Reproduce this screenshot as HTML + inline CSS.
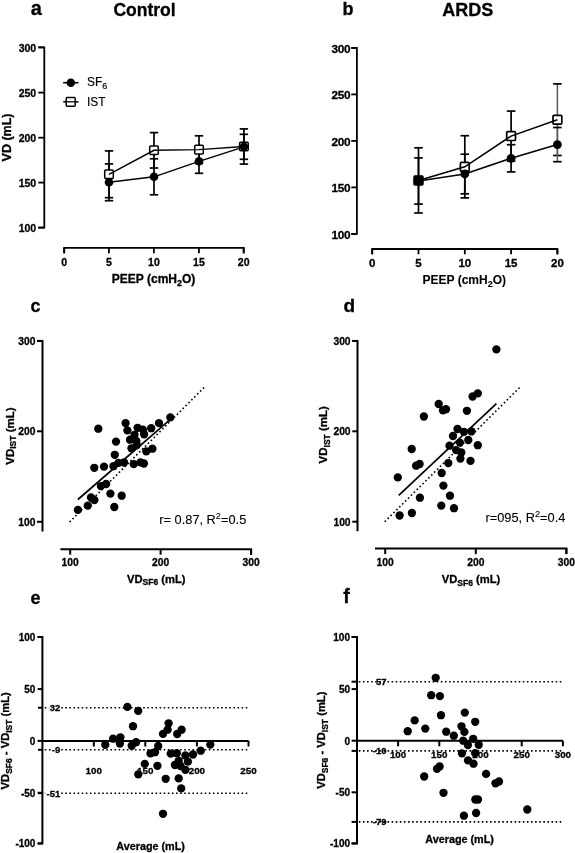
<!DOCTYPE html>
<html><head><meta charset="utf-8"><title>Figure</title>
<style>
html,body{margin:0;padding:0;background:#fff;width:575px;height:853px;overflow:hidden}
svg{display:block;will-change:transform;font-family:"Liberation Sans",sans-serif}
text{stroke:#000;stroke-width:0.3px}
</style></head><body>
<svg width="575" height="853" viewBox="0 0 575 853">
<rect width="575" height="853" fill="#fff"/>
<text x="30.7" y="15" font-size="20" text-anchor="start" font-weight="bold" >a</text>
<text x="144.5" y="15.8" font-size="17.5" text-anchor="middle" font-weight="bold" >Control</text>
<path d="M38.3,47.4 H44.3 V227.6 H38.3" fill="none" stroke="#000" stroke-width="1.8" />
<line x1="38.3" y1="47.4" x2="44.3" y2="47.4" stroke="#000" stroke-width="1.8" />
<text x="36.2" y="51.5" font-size="10.5" text-anchor="end" font-weight="bold" >300</text>
<line x1="38.3" y1="92.6" x2="44.3" y2="92.6" stroke="#000" stroke-width="1.8" />
<text x="36.2" y="96.69999999999999" font-size="10.5" text-anchor="end" font-weight="bold" >250</text>
<line x1="38.3" y1="137.7" x2="44.3" y2="137.7" stroke="#000" stroke-width="1.8" />
<text x="36.2" y="141.79999999999998" font-size="10.5" text-anchor="end" font-weight="bold" >200</text>
<line x1="38.3" y1="182.6" x2="44.3" y2="182.6" stroke="#000" stroke-width="1.8" />
<text x="36.2" y="186.7" font-size="10.5" text-anchor="end" font-weight="bold" >150</text>
<line x1="38.3" y1="227.6" x2="44.3" y2="227.6" stroke="#000" stroke-width="1.8" />
<text x="36.2" y="231.7" font-size="10.5" text-anchor="end" font-weight="bold" >100</text>
<path d="M64.2,253.3 V247.8 H243.7 V253.3" fill="none" stroke="#000" stroke-width="1.8" />
<line x1="64.2" y1="247.8" x2="64.2" y2="253.3" stroke="#000" stroke-width="1.8" />
<text x="64.2" y="266" font-size="10.5" text-anchor="middle" font-weight="bold" >0</text>
<line x1="108.9" y1="247.8" x2="108.9" y2="253.3" stroke="#000" stroke-width="1.8" />
<text x="108.9" y="266" font-size="10.5" text-anchor="middle" font-weight="bold" >5</text>
<line x1="153.9" y1="247.8" x2="153.9" y2="253.3" stroke="#000" stroke-width="1.8" />
<text x="153.9" y="266" font-size="10.5" text-anchor="middle" font-weight="bold" >10</text>
<line x1="198.9" y1="247.8" x2="198.9" y2="253.3" stroke="#000" stroke-width="1.8" />
<text x="198.9" y="266" font-size="10.5" text-anchor="middle" font-weight="bold" >15</text>
<line x1="243.7" y1="247.8" x2="243.7" y2="253.3" stroke="#000" stroke-width="1.8" />
<text x="243.7" y="266" font-size="10.5" text-anchor="middle" font-weight="bold" >20</text>
<text x="153.6" y="282.7" font-size="12" text-anchor="middle" font-weight="bold">PEEP (cmH<tspan font-size="9" dy="2.8">2</tspan><tspan dy="-2.8">O)</tspan></text>
<text transform="translate(11.3,137.5) rotate(-90)" x="0" y="0" font-size="12.5" text-anchor="middle" font-weight="bold">VD (mL)</text>
<line x1="63.2" y1="82.7" x2="78.5" y2="82.7" stroke="#000" stroke-width="1.6" />
<circle cx="70.8" cy="82.7" r="4.3" fill="#000"/>
<line x1="63.2" y1="101.8" x2="78.5" y2="101.8" stroke="#000" stroke-width="1.5" />
<rect x="66.2" y="97.4" width="9" height="8.8" rx="1" fill="#fff" stroke="#000" stroke-width="1.5"/>
<line x1="66.2" y1="101.8" x2="75.2" y2="101.8" stroke="#000" stroke-width="1.3" />
<text x="87" y="85.6" font-size="12" style="stroke-width:0.15px">SF<tspan font-size="9" dy="3.2">6</tspan></text>
<text x="87" y="105.9" font-size="12" style="stroke-width:0.15px">IST</text>
<line x1="109" y1="150.9" x2="109" y2="197.70000000000002" stroke="#000" stroke-width="1.7" />
<line x1="104.8" y1="150.9" x2="113.2" y2="150.9" stroke="#000" stroke-width="1.7" />
<line x1="104.8" y1="197.70000000000002" x2="113.2" y2="197.70000000000002" stroke="#000" stroke-width="1.7" />
<line x1="154" y1="132.60000000000002" x2="154" y2="168.0" stroke="#000" stroke-width="1.7" />
<line x1="149.8" y1="132.60000000000002" x2="158.2" y2="132.60000000000002" stroke="#000" stroke-width="1.7" />
<line x1="149.8" y1="168.0" x2="158.2" y2="168.0" stroke="#000" stroke-width="1.7" />
<line x1="199" y1="135.79999999999998" x2="199" y2="163.4" stroke="#000" stroke-width="1.7" />
<line x1="194.8" y1="135.79999999999998" x2="203.2" y2="135.79999999999998" stroke="#000" stroke-width="1.7" />
<line x1="194.8" y1="163.4" x2="203.2" y2="163.4" stroke="#000" stroke-width="1.7" />
<line x1="243.9" y1="128.9" x2="243.9" y2="164.1" stroke="#000" stroke-width="1.7" />
<line x1="239.70000000000002" y1="128.9" x2="248.1" y2="128.9" stroke="#000" stroke-width="1.7" />
<line x1="239.70000000000002" y1="164.1" x2="248.1" y2="164.1" stroke="#000" stroke-width="1.7" />
<line x1="109" y1="163.9" x2="109" y2="200.70000000000002" stroke="#000" stroke-width="1.7" />
<line x1="104.8" y1="163.9" x2="113.2" y2="163.9" stroke="#000" stroke-width="1.7" />
<line x1="104.8" y1="200.70000000000002" x2="113.2" y2="200.70000000000002" stroke="#000" stroke-width="1.7" />
<line x1="154" y1="158.8" x2="154" y2="194.8" stroke="#000" stroke-width="1.7" />
<line x1="149.8" y1="158.8" x2="158.2" y2="158.8" stroke="#000" stroke-width="1.7" />
<line x1="149.8" y1="194.8" x2="158.2" y2="194.8" stroke="#000" stroke-width="1.7" />
<line x1="199" y1="149.3" x2="199" y2="173.3" stroke="#000" stroke-width="1.7" />
<line x1="194.8" y1="149.3" x2="203.2" y2="149.3" stroke="#000" stroke-width="1.7" />
<line x1="194.8" y1="173.3" x2="203.2" y2="173.3" stroke="#000" stroke-width="1.7" />
<line x1="243.9" y1="134.3" x2="243.9" y2="159.3" stroke="#000" stroke-width="1.7" />
<line x1="239.70000000000002" y1="134.3" x2="248.1" y2="134.3" stroke="#000" stroke-width="1.7" />
<line x1="239.70000000000002" y1="159.3" x2="248.1" y2="159.3" stroke="#000" stroke-width="1.7" />
<rect x="104.7" y="170.0" width="8.6" height="8.6" rx="1" fill="#fff" stroke="#000" stroke-width="1.5"/>
<rect x="149.7" y="146.0" width="8.6" height="8.6" rx="1" fill="#fff" stroke="#000" stroke-width="1.5"/>
<rect x="194.7" y="145.29999999999998" width="8.6" height="8.6" rx="1" fill="#fff" stroke="#000" stroke-width="1.5"/>
<rect x="239.6" y="142.2" width="8.6" height="8.6" rx="1" fill="#fff" stroke="#000" stroke-width="1.5"/>
<path d="M109,174.3 L154,150.3 L199,149.6 L243.9,146.5" fill="none" stroke="#000" stroke-width="1.4" />
<path d="M109,182.3 L154,176.8 L199,161.3 L243.9,146.8" fill="none" stroke="#000" stroke-width="1.4" />
<circle cx="109" cy="182.3" r="4.3" fill="#000"/>
<circle cx="154" cy="176.8" r="4.3" fill="#000"/>
<circle cx="199" cy="161.3" r="4.3" fill="#000"/>
<circle cx="243.9" cy="146.8" r="4.3" fill="#000"/>
<text x="342.5" y="15.2" font-size="18" text-anchor="start" font-weight="bold" >b</text>
<text x="467.8" y="16.1" font-size="18" text-anchor="middle" font-weight="bold" >ARDS</text>
<path d="M351.3,47.9 H356.9 V233.9 H351.3" fill="none" stroke="#000" stroke-width="1.8" />
<line x1="351.3" y1="47.9" x2="356.9" y2="47.9" stroke="#000" stroke-width="1.8" />
<text x="350.2" y="52.8" font-size="11.8" text-anchor="end" font-weight="bold" letter-spacing="-0.35">300</text>
<line x1="351.3" y1="94.4" x2="356.9" y2="94.4" stroke="#000" stroke-width="1.8" />
<text x="350.2" y="99.30000000000001" font-size="11.8" text-anchor="end" font-weight="bold" letter-spacing="-0.35">250</text>
<line x1="351.3" y1="140.9" x2="356.9" y2="140.9" stroke="#000" stroke-width="1.8" />
<text x="350.2" y="145.8" font-size="11.8" text-anchor="end" font-weight="bold" letter-spacing="-0.35">200</text>
<line x1="351.3" y1="187.4" x2="356.9" y2="187.4" stroke="#000" stroke-width="1.8" />
<text x="350.2" y="192.3" font-size="11.8" text-anchor="end" font-weight="bold" letter-spacing="-0.35">150</text>
<line x1="351.3" y1="233.9" x2="356.9" y2="233.9" stroke="#000" stroke-width="1.8" />
<text x="350.2" y="238.8" font-size="11.8" text-anchor="end" font-weight="bold" letter-spacing="-0.35">100</text>
<path d="M372.2,254.3 V249 H557.4 V254.3" fill="none" stroke="#000" stroke-width="1.8" />
<line x1="372.2" y1="249" x2="372.2" y2="254.3" stroke="#000" stroke-width="1.8" />
<text x="372.2" y="266.9" font-size="11.5" text-anchor="middle" font-weight="bold" >0</text>
<line x1="418.5" y1="249" x2="418.5" y2="254.3" stroke="#000" stroke-width="1.8" />
<text x="418.5" y="266.9" font-size="11.5" text-anchor="middle" font-weight="bold" >5</text>
<line x1="464.8" y1="249" x2="464.8" y2="254.3" stroke="#000" stroke-width="1.8" />
<text x="464.8" y="266.9" font-size="11.5" text-anchor="middle" font-weight="bold" >10</text>
<line x1="511.1" y1="249" x2="511.1" y2="254.3" stroke="#000" stroke-width="1.8" />
<text x="511.1" y="266.9" font-size="11.5" text-anchor="middle" font-weight="bold" >15</text>
<line x1="557.4" y1="249" x2="557.4" y2="254.3" stroke="#000" stroke-width="1.8" />
<text x="557.4" y="266.9" font-size="11.5" text-anchor="middle" font-weight="bold" >20</text>
<text x="464.3" y="284" font-size="12" text-anchor="middle" font-weight="bold" style="stroke-width:0.1px">PEEP (cmH<tspan font-size="9" dy="2.8">2</tspan><tspan dy="-2.8">O)</tspan></text>
<line x1="418.5" y1="147.8" x2="418.5" y2="213.0" stroke="#000" stroke-width="1.7" />
<line x1="414.2" y1="147.8" x2="422.8" y2="147.8" stroke="#000" stroke-width="1.7" />
<line x1="414.2" y1="213.0" x2="422.8" y2="213.0" stroke="#000" stroke-width="1.7" />
<line x1="464.8" y1="135.70000000000002" x2="464.8" y2="197.9" stroke="#000" stroke-width="1.7" />
<line x1="460.5" y1="135.70000000000002" x2="469.1" y2="135.70000000000002" stroke="#000" stroke-width="1.7" />
<line x1="460.5" y1="197.9" x2="469.1" y2="197.9" stroke="#000" stroke-width="1.7" />
<line x1="511.1" y1="111.1" x2="511.1" y2="161.1" stroke="#000" stroke-width="1.7" />
<line x1="506.8" y1="111.1" x2="515.4" y2="111.1" stroke="#000" stroke-width="1.7" />
<line x1="506.8" y1="161.1" x2="515.4" y2="161.1" stroke="#000" stroke-width="1.7" />
<line x1="557.4" y1="83.9" x2="557.4" y2="155.5"  stroke-width="1.5" stroke="#5a5a5a"/>
<line x1="553.1" y1="83.9" x2="561.6999999999999" y2="83.9" stroke="#000" stroke-width="1.7" />
<line x1="553.1" y1="155.5" x2="561.6999999999999" y2="155.5" stroke="#000" stroke-width="1.7" />
<line x1="418.5" y1="157.9" x2="418.5" y2="204.1" stroke="#000" stroke-width="1.7" />
<line x1="414.2" y1="157.9" x2="422.8" y2="157.9" stroke="#000" stroke-width="1.7" />
<line x1="414.2" y1="204.1" x2="422.8" y2="204.1" stroke="#000" stroke-width="1.7" />
<line x1="464.8" y1="154.2" x2="464.8" y2="193.8" stroke="#000" stroke-width="1.7" />
<line x1="460.5" y1="154.2" x2="469.1" y2="154.2" stroke="#000" stroke-width="1.7" />
<line x1="460.5" y1="193.8" x2="469.1" y2="193.8" stroke="#000" stroke-width="1.7" />
<line x1="511.1" y1="144.70000000000002" x2="511.1" y2="171.9" stroke="#000" stroke-width="1.7" />
<line x1="506.8" y1="144.70000000000002" x2="515.4" y2="144.70000000000002" stroke="#000" stroke-width="1.7" />
<line x1="506.8" y1="171.9" x2="515.4" y2="171.9" stroke="#000" stroke-width="1.7" />
<line x1="557.4" y1="127.5" x2="557.4" y2="161.7"  stroke-width="1.5" stroke="#5a5a5a"/>
<line x1="553.1" y1="127.5" x2="561.6999999999999" y2="127.5" stroke="#000" stroke-width="1.7" />
<line x1="553.1" y1="161.7" x2="561.6999999999999" y2="161.7" stroke="#000" stroke-width="1.7" />
<rect x="414.1" y="176.0" width="8.8" height="8.8" rx="1" fill="#fff" stroke="#000" stroke-width="1.7"/>
<rect x="460.40000000000003" y="162.4" width="8.8" height="8.8" rx="1" fill="#fff" stroke="#000" stroke-width="1.7"/>
<rect x="506.70000000000005" y="131.7" width="8.8" height="8.8" rx="1" fill="#fff" stroke="#000" stroke-width="1.7"/>
<rect x="553.0" y="115.3" width="8.8" height="8.8" rx="1" fill="#fff" stroke="#000" stroke-width="1.7"/>
<path d="M418.5,180.4 L464.8,166.8 L511.1,136.1 L557.4,119.7" fill="none" stroke="#000" stroke-width="1.6" />
<path d="M418.5,181.0 L464.8,174.0 L511.1,158.3 L557.4,144.6" fill="none" stroke="#000" stroke-width="1.6" />
<circle cx="418.5" cy="181.0" r="4.4" fill="#000"/>
<circle cx="464.8" cy="174.0" r="4.4" fill="#000"/>
<circle cx="511.1" cy="158.3" r="4.4" fill="#000"/>
<circle cx="557.4" cy="144.6" r="4.4" fill="#000"/>
<rect x="413.9" y="175.8" width="9.2" height="9.2" fill="#000"/>
<text x="30.5" y="312.1" font-size="18" text-anchor="start" font-weight="bold" >c</text>
<path d="M37,340.9 H42.5 V531.4" fill="none" stroke="#000" stroke-width="2" />
<line x1="37" y1="340.9" x2="42.5" y2="340.9" stroke="#000" stroke-width="2" />
<text x="35.4" y="344.9" font-size="10.3" text-anchor="end" font-weight="bold" >300</text>
<line x1="37" y1="431.3" x2="42.5" y2="431.3" stroke="#000" stroke-width="2" />
<text x="35.4" y="435.3" font-size="10.3" text-anchor="end" font-weight="bold" >200</text>
<line x1="37" y1="521.8" x2="42.5" y2="521.8" stroke="#000" stroke-width="2" />
<text x="35.4" y="525.8" font-size="10.3" text-anchor="end" font-weight="bold" >100</text>
<path d="M60.4,549.2 H251.1 V554.7" fill="none" stroke="#000" stroke-width="2" />
<line x1="70.2" y1="549.2" x2="70.2" y2="554.7" stroke="#000" stroke-width="2" />
<text x="70.2" y="566.3" font-size="10.3" text-anchor="middle" font-weight="bold" >100</text>
<line x1="160.6" y1="549.2" x2="160.6" y2="554.7" stroke="#000" stroke-width="2" />
<text x="160.6" y="566.3" font-size="10.3" text-anchor="middle" font-weight="bold" >200</text>
<line x1="251.1" y1="549.2" x2="251.1" y2="554.7" stroke="#000" stroke-width="2" />
<text x="251.1" y="566.3" font-size="10.3" text-anchor="middle" font-weight="bold" >300</text>
<text x="156.3" y="582.8" font-size="11.2" text-anchor="middle" font-weight="bold">VD<tspan font-size="8.5" dy="2.2">SF6</tspan><tspan dy="-2.2"> (mL)</tspan></text>
<text transform="translate(14,436.1) rotate(-90)" font-size="11.5" text-anchor="middle" font-weight="bold">VD<tspan font-size="8.5" dy="2.2">IST</tspan><tspan dy="-2.2"> (mL)</tspan></text>
<line x1="69.6" y1="522" x2="205.8" y2="385.8" stroke="#000" stroke-width="1.6" stroke-dasharray="1.6 2.5"/>
<line x1="77.9" y1="499.5" x2="169.8" y2="419.8" stroke="#000" stroke-width="1.7" />
<circle cx="77.9" cy="509.9" r="4.15" fill="#000"/>
<circle cx="87.8" cy="505.6" r="4.15" fill="#000"/>
<circle cx="91" cy="497.4" r="4.15" fill="#000"/>
<circle cx="94.4" cy="500" r="4.15" fill="#000"/>
<circle cx="114.3" cy="507" r="4.15" fill="#000"/>
<circle cx="110.4" cy="493.6" r="4.15" fill="#000"/>
<circle cx="121.7" cy="495.7" r="4.15" fill="#000"/>
<circle cx="100.9" cy="486.1" r="4.15" fill="#000"/>
<circle cx="106.1" cy="484" r="4.15" fill="#000"/>
<circle cx="94.3" cy="467.8" r="4.15" fill="#000"/>
<circle cx="104" cy="466.6" r="4.15" fill="#000"/>
<circle cx="113.5" cy="466.2" r="4.15" fill="#000"/>
<circle cx="118.5" cy="462.8" r="4.15" fill="#000"/>
<circle cx="124.1" cy="462.5" r="4.15" fill="#000"/>
<circle cx="133.7" cy="464.1" r="4.15" fill="#000"/>
<circle cx="140.4" cy="462.4" r="4.15" fill="#000"/>
<circle cx="143.9" cy="463.5" r="4.15" fill="#000"/>
<circle cx="114.8" cy="454.8" r="4.15" fill="#000"/>
<circle cx="116" cy="441.6" r="4.15" fill="#000"/>
<circle cx="98.3" cy="428.7" r="4.15" fill="#000"/>
<circle cx="125.6" cy="423.1" r="4.15" fill="#000"/>
<circle cx="127.4" cy="430.4" r="4.15" fill="#000"/>
<circle cx="137.6" cy="427.8" r="4.15" fill="#000"/>
<circle cx="142.9" cy="429.6" r="4.15" fill="#000"/>
<circle cx="144.1" cy="434.3" r="4.15" fill="#000"/>
<circle cx="151.2" cy="428.2" r="4.15" fill="#000"/>
<circle cx="159" cy="423.1" r="4.15" fill="#000"/>
<circle cx="170.3" cy="417.4" r="4.15" fill="#000"/>
<circle cx="130" cy="439.7" r="4.15" fill="#000"/>
<circle cx="134.5" cy="434.8" r="4.15" fill="#000"/>
<circle cx="136.3" cy="440.9" r="4.15" fill="#000"/>
<circle cx="131.5" cy="448.3" r="4.15" fill="#000"/>
<circle cx="136.8" cy="445" r="4.15" fill="#000"/>
<circle cx="146.3" cy="451.3" r="4.15" fill="#000"/>
<circle cx="152.4" cy="448.7" r="4.15" fill="#000"/>
<text x="159.3" y="523.6" font-size="12.8" style="stroke-width:0.1px">r= 0.87, R<tspan font-size="9.2" dy="-5">2</tspan><tspan dy="5">=0.5</tspan></text>
<text x="343.6" y="312.3" font-size="19" text-anchor="start" font-weight="bold" >d</text>
<path d="M352.3,340.9 H357.5 V531.3" fill="none" stroke="#000" stroke-width="2" />
<line x1="352.3" y1="340.9" x2="357.5" y2="340.9" stroke="#000" stroke-width="2" />
<text x="350.6" y="344.9" font-size="10.3" text-anchor="end" font-weight="bold" >300</text>
<line x1="352.3" y1="431.3" x2="357.5" y2="431.3" stroke="#000" stroke-width="2" />
<text x="350.6" y="435.3" font-size="10.3" text-anchor="end" font-weight="bold" >200</text>
<line x1="352.3" y1="521.7" x2="357.5" y2="521.7" stroke="#000" stroke-width="2" />
<text x="350.6" y="525.7" font-size="10.3" text-anchor="end" font-weight="bold" >100</text>
<path d="M375,548.6 H566.4 V554.1" fill="none" stroke="#000" stroke-width="2" />
<line x1="385.2" y1="548.6" x2="385.2" y2="554.1" stroke="#000" stroke-width="2" />
<text x="385.2" y="566.3" font-size="10.3" text-anchor="middle" font-weight="bold" >100</text>
<line x1="475.8" y1="548.6" x2="475.8" y2="554.1" stroke="#000" stroke-width="2" />
<text x="475.8" y="566.3" font-size="10.3" text-anchor="middle" font-weight="bold" >200</text>
<line x1="566.4" y1="548.6" x2="566.4" y2="554.1" stroke="#000" stroke-width="2" />
<text x="566.4" y="566.3" font-size="10.3" text-anchor="middle" font-weight="bold" >300</text>
<text x="471" y="583.3" font-size="11.2" text-anchor="middle" font-weight="bold">VD<tspan font-size="8.5" dy="2.2">SF6</tspan><tspan dy="-2.2"> (mL)</tspan></text>
<text transform="translate(327.3,434.8) rotate(-90)" font-size="11.5" text-anchor="middle" font-weight="bold">VD<tspan font-size="8.5" dy="2.2">IST</tspan><tspan dy="-2.2"> (mL)</tspan></text>
<line x1="384.7" y1="521.7" x2="520.6" y2="386.6" stroke="#000" stroke-width="1.6" stroke-dasharray="1.6 2.5"/>
<line x1="398.7" y1="495.3" x2="496.4" y2="403.6" stroke="#000" stroke-width="1.7" />
<circle cx="397.8" cy="477.4" r="4.15" fill="#000"/>
<circle cx="411.7" cy="449" r="4.15" fill="#000"/>
<circle cx="416.1" cy="465.7" r="4.15" fill="#000"/>
<circle cx="419.6" cy="464" r="4.15" fill="#000"/>
<circle cx="419.9" cy="497.7" r="4.15" fill="#000"/>
<circle cx="399.6" cy="515.5" r="4.15" fill="#000"/>
<circle cx="411.9" cy="513" r="4.15" fill="#000"/>
<circle cx="423.9" cy="416.5" r="4.15" fill="#000"/>
<circle cx="438.7" cy="404" r="4.15" fill="#000"/>
<circle cx="443" cy="410.4" r="4.15" fill="#000"/>
<circle cx="446" cy="409.2" r="4.15" fill="#000"/>
<circle cx="466.9" cy="410.8" r="4.15" fill="#000"/>
<circle cx="472.6" cy="396.5" r="4.15" fill="#000"/>
<circle cx="477.8" cy="393.4" r="4.15" fill="#000"/>
<circle cx="457.5" cy="429" r="4.15" fill="#000"/>
<circle cx="463.9" cy="431.8" r="4.15" fill="#000"/>
<circle cx="471.4" cy="431.3" r="4.15" fill="#000"/>
<circle cx="453" cy="436" r="4.15" fill="#000"/>
<circle cx="468.3" cy="440" r="4.15" fill="#000"/>
<circle cx="477.8" cy="445.2" r="4.15" fill="#000"/>
<circle cx="459.9" cy="442.6" r="4.15" fill="#000"/>
<circle cx="449.5" cy="445.7" r="4.15" fill="#000"/>
<circle cx="456.1" cy="450.1" r="4.15" fill="#000"/>
<circle cx="461.3" cy="452.5" r="4.15" fill="#000"/>
<circle cx="460.4" cy="458.6" r="4.15" fill="#000"/>
<circle cx="470.5" cy="460.9" r="4.15" fill="#000"/>
<circle cx="448.3" cy="463.1" r="4.15" fill="#000"/>
<circle cx="441.7" cy="473" r="4.15" fill="#000"/>
<circle cx="443.4" cy="485.6" r="4.15" fill="#000"/>
<circle cx="450" cy="495.7" r="4.15" fill="#000"/>
<circle cx="441.3" cy="505.6" r="4.15" fill="#000"/>
<circle cx="454" cy="508.2" r="4.15" fill="#000"/>
<circle cx="496.4" cy="349.4" r="4.15" fill="#000"/>
<text x="485.5" y="522.4" font-size="12.8" style="stroke-width:0.1px">r=095, R<tspan font-size="9.2" dy="-5">2</tspan><tspan dy="5">=0.4</tspan></text>
<text x="30.5" y="603.9" font-size="18" text-anchor="start" font-weight="bold" >e</text>
<path d="M37.6,637 H42.4 V843.4 H37.6" fill="none" stroke="#000" stroke-width="2" />
<line x1="37.6" y1="637" x2="42.4" y2="637" stroke="#000" stroke-width="2" />
<text x="35.4" y="640.8" font-size="10" text-anchor="end" font-weight="bold" >100</text>
<line x1="37.6" y1="689.1" x2="42.4" y2="689.1" stroke="#000" stroke-width="2" />
<text x="35.4" y="692.9" font-size="10" text-anchor="end" font-weight="bold" >50</text>
<line x1="37.6" y1="740.9" x2="42.4" y2="740.9" stroke="#000" stroke-width="2" />
<text x="35.4" y="744.6999999999999" font-size="10" text-anchor="end" font-weight="bold" >0</text>
<line x1="37.6" y1="792.8" x2="42.4" y2="792.8" stroke="#000" stroke-width="2" />
<text x="35.4" y="796.5999999999999" font-size="10" text-anchor="end" font-weight="bold" >-50</text>
<line x1="37.6" y1="843.4" x2="42.4" y2="843.4" stroke="#000" stroke-width="2" />
<text x="35.4" y="847.1999999999999" font-size="10" text-anchor="end" font-weight="bold" >-100</text>
<line x1="42.4" y1="740.9" x2="248.5" y2="740.9" stroke="#000" stroke-width="2" />
<line x1="93.8" y1="740.9" x2="93.8" y2="746.5" stroke="#000" stroke-width="2" />
<text x="93.8" y="773.6" font-size="9.8" text-anchor="middle" font-weight="bold" >100</text>
<line x1="145.3" y1="740.9" x2="145.3" y2="746.5" stroke="#000" stroke-width="2" />
<text x="145.3" y="773.6" font-size="9.8" text-anchor="middle" font-weight="bold" >150</text>
<line x1="196.9" y1="740.9" x2="196.9" y2="746.5" stroke="#000" stroke-width="2" />
<text x="196.9" y="773.6" font-size="9.8" text-anchor="middle" font-weight="bold" >200</text>
<line x1="248.5" y1="740.9" x2="248.5" y2="746.5" stroke="#000" stroke-width="2" />
<text x="248.5" y="773.6" font-size="9.8" text-anchor="middle" font-weight="bold" >250</text>
<line x1="38" y1="707.7" x2="42.4" y2="707.7" stroke="#000" stroke-width="2" />
<line x1="44.8" y1="707.7" x2="247.6" y2="707.7" stroke="#000" stroke-width="1.6" stroke-dasharray="1.6 2.5"/>
<rect x="49.2" y="703.7" width="10.799999999999997" height="8" fill="#fff"/>
<text x="60.3" y="711.1" font-size="9.5" text-anchor="end" font-weight="bold" >32</text>
<line x1="38" y1="749.8" x2="42.4" y2="749.8" stroke="#000" stroke-width="2" />
<line x1="44.8" y1="749.8" x2="247.6" y2="749.8" stroke="#000" stroke-width="1.6" stroke-dasharray="1.6 2.5"/>
<rect x="51" y="745.8" width="9" height="8" fill="#fff"/>
<text x="60.3" y="753.1999999999999" font-size="9.5" text-anchor="end" font-weight="bold" >-9</text>
<line x1="38" y1="793.2" x2="42.4" y2="793.2" stroke="#000" stroke-width="2" />
<line x1="44.8" y1="793.2" x2="247.6" y2="793.2" stroke="#000" stroke-width="1.6" stroke-dasharray="1.6 2.5"/>
<rect x="45.2" y="789.2" width="14.799999999999997" height="8" fill="#fff"/>
<text x="60.3" y="796.6" font-size="9.5" text-anchor="end" font-weight="bold" >-51</text>
<text x="150.6" y="849.6" font-size="10.8" text-anchor="middle" font-weight="bold">Average (mL)</text>
<text transform="translate(9.3,740.8) rotate(-90)" font-size="11.2" text-anchor="middle" font-weight="bold">VD<tspan font-size="8.5" dy="2.2">SF6</tspan><tspan dy="-2.2"> - VD</tspan><tspan font-size="8.5" dy="2.2">IST</tspan><tspan dy="-2.2"> (mL)</tspan></text>
<circle cx="105.3" cy="744.8" r="4.15" fill="#000"/>
<circle cx="113.1" cy="738.7" r="4.15" fill="#000"/>
<circle cx="120.4" cy="737.3" r="4.15" fill="#000"/>
<circle cx="119.9" cy="743.6" r="4.15" fill="#000"/>
<circle cx="131.7" cy="745.7" r="4.15" fill="#000"/>
<circle cx="136.1" cy="742.2" r="4.15" fill="#000"/>
<circle cx="127.4" cy="706.9" r="4.15" fill="#000"/>
<circle cx="138.2" cy="710.9" r="4.15" fill="#000"/>
<circle cx="133" cy="726.2" r="4.15" fill="#000"/>
<circle cx="138.3" cy="774.3" r="4.15" fill="#000"/>
<circle cx="144.8" cy="763.9" r="4.15" fill="#000"/>
<circle cx="150.5" cy="753.4" r="4.15" fill="#000"/>
<circle cx="155" cy="752.2" r="4.15" fill="#000"/>
<circle cx="158.2" cy="746" r="4.15" fill="#000"/>
<circle cx="157.4" cy="765.8" r="4.15" fill="#000"/>
<circle cx="163" cy="733.9" r="4.15" fill="#000"/>
<circle cx="167.6" cy="729.7" r="4.15" fill="#000"/>
<circle cx="168.6" cy="723.3" r="4.15" fill="#000"/>
<circle cx="177.2" cy="734" r="4.15" fill="#000"/>
<circle cx="181.6" cy="729.7" r="4.15" fill="#000"/>
<circle cx="170.7" cy="753.6" r="4.15" fill="#000"/>
<circle cx="176.8" cy="753.2" r="4.15" fill="#000"/>
<circle cx="185.4" cy="755.5" r="4.15" fill="#000"/>
<circle cx="193" cy="754.5" r="4.15" fill="#000"/>
<circle cx="200.7" cy="750.7" r="4.15" fill="#000"/>
<circle cx="210.3" cy="744.6" r="4.15" fill="#000"/>
<circle cx="178.7" cy="760.8" r="4.15" fill="#000"/>
<circle cx="187.9" cy="761.6" r="4.15" fill="#000"/>
<circle cx="174.9" cy="765" r="4.15" fill="#000"/>
<circle cx="180.6" cy="766" r="4.15" fill="#000"/>
<circle cx="185.4" cy="769.8" r="4.15" fill="#000"/>
<circle cx="165.7" cy="778.8" r="4.15" fill="#000"/>
<circle cx="178.7" cy="778.4" r="4.15" fill="#000"/>
<circle cx="181.2" cy="788.4" r="4.15" fill="#000"/>
<circle cx="163" cy="813.8" r="4.15" fill="#000"/>
<text x="343.2" y="602.8" font-size="19.5" text-anchor="start" font-weight="bold" >f</text>
<path d="M351.6,637 H357 V843.4 H351.6" fill="none" stroke="#000" stroke-width="2" />
<line x1="351.6" y1="637" x2="357" y2="637" stroke="#000" stroke-width="2" />
<text x="350" y="640.8" font-size="10" text-anchor="end" font-weight="bold" >100</text>
<line x1="351.6" y1="689.1" x2="357" y2="689.1" stroke="#000" stroke-width="2" />
<text x="350" y="692.9" font-size="10" text-anchor="end" font-weight="bold" >50</text>
<line x1="351.6" y1="740.7" x2="357" y2="740.7" stroke="#000" stroke-width="2" />
<text x="350" y="744.5" font-size="10" text-anchor="end" font-weight="bold" >0</text>
<line x1="351.6" y1="792.3" x2="357" y2="792.3" stroke="#000" stroke-width="2" />
<text x="350" y="796.0999999999999" font-size="10" text-anchor="end" font-weight="bold" >-50</text>
<line x1="351.6" y1="843.4" x2="357" y2="843.4" stroke="#000" stroke-width="2" />
<text x="350" y="847.1999999999999" font-size="10" text-anchor="end" font-weight="bold" >-100</text>
<line x1="357" y1="740.7" x2="562.9" y2="740.7" stroke="#000" stroke-width="2" />
<line x1="398.1" y1="740.7" x2="398.1" y2="746.3000000000001" stroke="#000" stroke-width="2" />
<text x="398.1" y="757.8" font-size="9.8" text-anchor="middle" font-weight="bold" >100</text>
<line x1="439.3" y1="740.7" x2="439.3" y2="746.3000000000001" stroke="#000" stroke-width="2" />
<text x="439.3" y="757.8" font-size="9.8" text-anchor="middle" font-weight="bold" >150</text>
<line x1="480.5" y1="740.7" x2="480.5" y2="746.3000000000001" stroke="#000" stroke-width="2" />
<text x="480.5" y="757.8" font-size="9.8" text-anchor="middle" font-weight="bold" >200</text>
<line x1="521.7" y1="740.7" x2="521.7" y2="746.3000000000001" stroke="#000" stroke-width="2" />
<text x="521.7" y="757.8" font-size="9.8" text-anchor="middle" font-weight="bold" >250</text>
<line x1="562.9" y1="740.7" x2="562.9" y2="746.3000000000001" stroke="#000" stroke-width="2" />
<text x="562.9" y="757.8" font-size="9.8" text-anchor="middle" font-weight="bold" >300</text>
<line x1="351.6" y1="681.7" x2="357" y2="681.7" stroke="#000" stroke-width="2" />
<line x1="358.8" y1="681.7" x2="561.5" y2="681.7" stroke="#000" stroke-width="1.6" stroke-dasharray="1.6 2.5"/>
<text x="386.6" y="685.1" font-size="9.5" text-anchor="end" font-weight="bold" >57</text>
<line x1="351.6" y1="750.9" x2="357" y2="750.9" stroke="#000" stroke-width="2" />
<line x1="358.8" y1="750.9" x2="561.5" y2="750.9" stroke="#000" stroke-width="1.6" stroke-dasharray="1.6 2.5"/>
<text x="386.6" y="754.3" font-size="9.5" text-anchor="end" font-weight="bold" >-10</text>
<line x1="351.6" y1="821.9" x2="357" y2="821.9" stroke="#000" stroke-width="2" />
<line x1="358.8" y1="821.9" x2="561.5" y2="821.9" stroke="#000" stroke-width="1.6" stroke-dasharray="1.6 2.5"/>
<text x="386.6" y="825.3" font-size="9.5" text-anchor="end" font-weight="bold" >-79</text>
<text x="459.6" y="842.5" font-size="10.8" text-anchor="middle" font-weight="bold">Average (mL)</text>
<text transform="translate(325.4,740.2) rotate(-90)" font-size="11.2" text-anchor="middle" font-weight="bold">VD<tspan font-size="8.5" dy="2.2">SF6</tspan><tspan dy="-2.2"> - VD</tspan><tspan font-size="8.5" dy="2.2">IST</tspan><tspan dy="-2.2"> (mL)</tspan></text>
<circle cx="435.7" cy="677.8" r="4.15" fill="#000"/>
<circle cx="431.2" cy="695.2" r="4.15" fill="#000"/>
<circle cx="439.9" cy="696.1" r="4.15" fill="#000"/>
<circle cx="441" cy="715.2" r="4.15" fill="#000"/>
<circle cx="414.7" cy="720.4" r="4.15" fill="#000"/>
<circle cx="407.7" cy="731.2" r="4.15" fill="#000"/>
<circle cx="425.3" cy="728.6" r="4.15" fill="#000"/>
<circle cx="446.2" cy="731.7" r="4.15" fill="#000"/>
<circle cx="453.8" cy="735.7" r="4.15" fill="#000"/>
<circle cx="464.8" cy="712.6" r="4.15" fill="#000"/>
<circle cx="475.2" cy="721.8" r="4.15" fill="#000"/>
<circle cx="461.5" cy="726.3" r="4.15" fill="#000"/>
<circle cx="464.4" cy="731.9" r="4.15" fill="#000"/>
<circle cx="463.2" cy="740.7" r="4.15" fill="#000"/>
<circle cx="473.2" cy="738.8" r="4.15" fill="#000"/>
<circle cx="467.9" cy="745" r="4.15" fill="#000"/>
<circle cx="478.7" cy="744.8" r="4.15" fill="#000"/>
<circle cx="462" cy="753.3" r="4.15" fill="#000"/>
<circle cx="475.1" cy="753.1" r="4.15" fill="#000"/>
<circle cx="468" cy="760.4" r="4.15" fill="#000"/>
<circle cx="473.5" cy="763.7" r="4.15" fill="#000"/>
<circle cx="439.6" cy="766.5" r="4.15" fill="#000"/>
<circle cx="437" cy="768.8" r="4.15" fill="#000"/>
<circle cx="424.2" cy="776.5" r="4.15" fill="#000"/>
<circle cx="486.1" cy="773.9" r="4.15" fill="#000"/>
<circle cx="495.5" cy="783.3" r="4.15" fill="#000"/>
<circle cx="499" cy="781.5" r="4.15" fill="#000"/>
<circle cx="443.5" cy="792.8" r="4.15" fill="#000"/>
<circle cx="475.3" cy="799.5" r="4.15" fill="#000"/>
<circle cx="478" cy="799.5" r="4.15" fill="#000"/>
<circle cx="527.3" cy="809.5" r="4.15" fill="#000"/>
<circle cx="463.9" cy="815.7" r="4.15" fill="#000"/>
<circle cx="476.1" cy="813" r="4.15" fill="#000"/>
</svg>
</body></html>
